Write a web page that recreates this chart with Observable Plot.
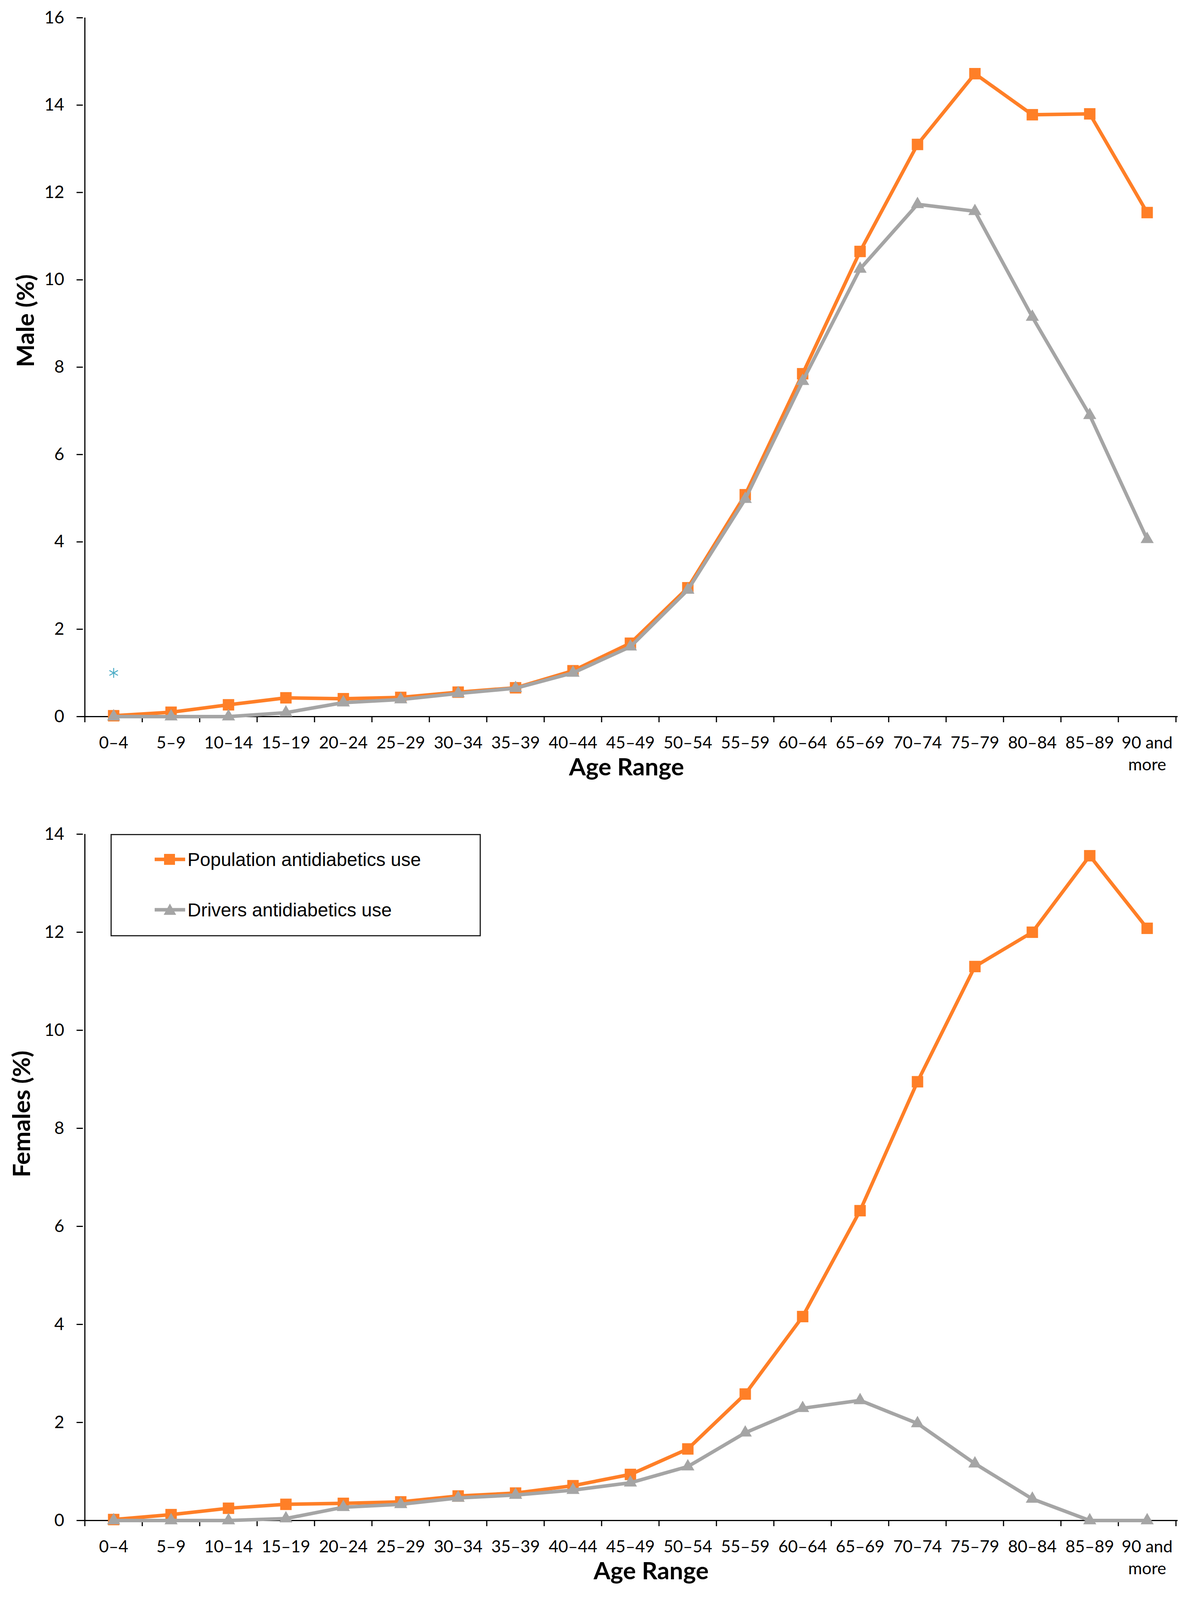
<!DOCTYPE html>
<html>
<head>
<meta charset="utf-8">
<script src="https://cdn.jsdelivr.net/npm/d3@7"></script>
<script src="https://cdn.jsdelivr.net/npm/@observablehq/plot@0.6"></script>
<style>
html, body { margin: 0; padding: 0; background: #fff; overflow: hidden; }
#wrap { position: relative; width: 3039px; height: 4096px; background: #fff; overflow: hidden; }
#top { position: absolute; left: 0; top: 0; }
#bottom { position: absolute; left: 0; top: 2050px; }
#legend {
  position: absolute; left: 283px; top: 2135px; width: 942px; height: 256px;
  border: 3px solid #222; background: #fff;
  font-family: "Liberation Sans", Arial, sans-serif; font-size: 48px; color: #000;
}
.item { position: absolute; left: 110px; height: 56px; display: flex; align-items: center; white-space: nowrap; }
.item svg { margin-right: 6px; }
</style>
</head>
<body>
<div id="wrap">
  <div id="top"></div>
  <div id="bottom"></div>
  <div id="legend">
    <div class="item" style="top:34px">
      <svg width="78" height="40"><line x1="0" y1="20" x2="78" y2="20" stroke="#FF7F27" stroke-width="9"/><rect x="24" y="6" width="28" height="28" fill="#FF7F27"/></svg>
      <span>Population antidiabetics use</span>
    </div>
    <div class="item" style="top:163px">
      <svg width="78" height="40"><line x1="0" y1="20" x2="78" y2="20" stroke="#A5A5A5" stroke-width="9"/><path d="M39,4 L55,33 L23,33 Z" fill="#A5A5A5"/></svg>
      <span>Drivers antidiabetics use</span>
    </div>
  </div>
</div>
<script>
const ageRanges = ["0–4","5–9","10–14","15–19","20–24","25–29","30–34","35–39","40–44","45–49","50–54","55–59","60–64","65–69","70–74","75–79","80–84","85–89","90 and more"];

const malePopulation = [0.02,0.10,0.27,0.43,0.41,0.44,0.56,0.66,1.05,1.68,2.95,5.08,7.85,10.65,13.10,14.72,13.78,13.80,11.54];
const maleDrivers    = [0.00,0.00,0.00,0.09,0.32,0.39,0.53,0.65,1.00,1.60,2.90,4.98,7.68,10.25,11.73,11.57,9.15,6.90,4.06];
const maleStray      = [{age: "0–4", value: 1.0}];

const femalePopulation = [0.02,0.12,0.25,0.33,0.35,0.38,0.50,0.56,0.71,0.94,1.46,2.58,4.16,6.32,8.95,11.30,12.00,13.56,12.08];
const femaleDrivers    = [0.00,0.00,0.00,0.04,0.27,0.33,0.46,0.52,0.62,0.77,1.10,1.79,2.29,2.45,1.98,1.16,0.44,0.00,0.00];

const maleTicks = [0,2,4,6,8,10,12,14,16];
const femaleTicks = [0,2,4,6,8,10,12,14];

const ORANGE = "#FF7F27", GRAY = "#A5A5A5", BLUE = "#4BACC6";
const W = 3039, ML = 212, MR = 24;
const BW = (W - ML - MR) / ageRanges.length;

function rows(values) { return ageRanges.map((age, i) => ({age, value: values[i]})); }

function chart({pop, drv, stray, ticks, height, marginTop, marginBottom, ylabel, ylabelDx, xlabelDx}) {
  const yMax = ticks[ticks.length - 1];
  const marks = [
    Plot.ruleY([0], {stroke: "#000", strokeWidth: 3}),
    Plot.ruleX([ageRanges[0]], {y1: 0, y2: yMax, dx: -BW / 2, stroke: "#000", strokeWidth: 3}),
    Plot.ruleX(ageRanges, {y1: 0, y2: 0, insetBottom: -15, dx: -BW / 2, stroke: "#000", strokeWidth: 3}),
    Plot.ruleX([ageRanges[ageRanges.length - 1]], {y1: 0, y2: 0, insetBottom: -15, dx: BW / 2, stroke: "#000", strokeWidth: 3}),
    Plot.axisY({ticks, tickSize: 16, tickPadding: 32, fontSize: 44, strokeWidth: 3, label: null, tickFormat: d => String(d)}),
    Plot.axisX({tickSize: 0, tickPadding: 42, fontSize: 43, label: null, lineHeight: 1.3,
      tickFormat: d => d === "90 and more" ? "90 and\nmore" : d}),
    Plot.line(rows(pop), {x: "age", y: "value", stroke: ORANGE, strokeWidth: 9}),
    Plot.dot(rows(pop), {x: "age", y: "value", symbol: "square", fill: ORANGE, r: 16.5}),
    Plot.line(rows(drv), {x: "age", y: "value", stroke: GRAY, strokeWidth: 9}),
    Plot.dot(rows(drv), {x: "age", y: "value", symbol: "triangle", fill: GRAY, r: 12.5}),
    Plot.text([ylabel], {frameAnchor: "left", rotate: -90, dx: ylabelDx, fontSize: 62, fontWeight: "bold"}),
    Plot.text(["Age Range"], {frameAnchor: "bottom", dy: 150, dx: xlabelDx, fontSize: 62, fontWeight: "bold"})
  ];
  if (stray) marks.push(Plot.dot(stray, {x: "age", y: "value", symbol: "asterisk", stroke: BLUE, r: 12, strokeWidth: 2.5}));
  return Plot.plot({
    width: W, height, marginLeft: ML, marginRight: MR, marginTop, marginBottom,
    style: {fontFamily: "Lato, 'Open Sans', sans-serif", background: "transparent", color: "#000", overflow: "visible"},
    x: {type: "band", domain: ageRanges, padding: 0},
    y: {domain: [0, yMax]},
    marks
  });
}

document.getElementById("top").append(chart({
  pop: malePopulation, drv: maleDrivers, stray: maleStray, ticks: maleTicks,
  height: 2050, marginTop: 45, marginBottom: 216, ylabel: "Male (%)", ylabelDx: -145, xlabelDx: -10
}));
document.getElementById("bottom").append(chart({
  pop: femalePopulation, drv: femaleDrivers, stray: null, ticks: femaleTicks,
  height: 2046, marginTop: 85, marginBottom: 204, ylabel: "Females (%)", ylabelDx: -155, xlabelDx: 53
}));
</script>
</body>
</html>
